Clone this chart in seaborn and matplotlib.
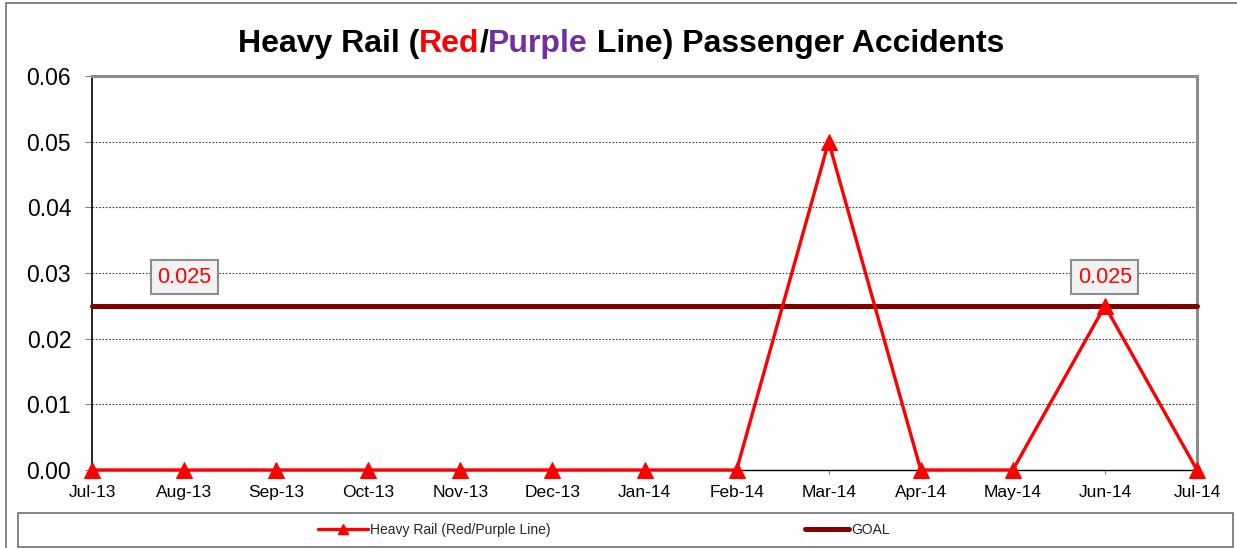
import matplotlib
matplotlib.use("Agg")
import matplotlib.pyplot as plt
from matplotlib.patches import Rectangle
from matplotlib.lines import Line2D
import seaborn as sns
import pandas as pd

# Monthly accident rate and goal
months = ["Jul-13", "Aug-13", "Sep-13", "Oct-13", "Nov-13", "Dec-13", "Jan-14",
          "Feb-14", "Mar-14", "Apr-14", "May-14", "Jun-14", "Jul-14"]
accidents = [0, 0, 0, 0, 0, 0, 0, 0, 0.05, 0, 0, 0.025, 0]
goal = [0.025] * 13
y_ticks = [0.00, 0.01, 0.02, 0.03, 0.04, 0.05, 0.06]
series_name = "Heavy Rail (Red/Purple Line)"
goal_name = "GOAL"
labelled_points = [(1, 0.025), (11, 0.025)]

sns.set_theme(style="white")
plt.rcParams["font.family"] = ["Liberation Sans", "DejaVu Sans"]

W, H = 1237, 548
fig = plt.figure(figsize=(W / 100, H / 100), dpi=100)
ax = fig.add_axes([92 / W, 1 - 470 / H, (1197 - 92) / W, (470 - 76) / H])

df = pd.DataFrame({"idx": range(len(months)), "month": months,
                   "value": accidents, "goal": goal})

RED = "#FF0000"
GOAL_C = "#800000"

sns.lineplot(data=df, x="idx", y="goal", ax=ax, color=GOAL_C, lw=3.6,
             zorder=3, legend=False)
sns.lineplot(data=df, x="idx", y="value", ax=ax, color=RED, lw=2.4,
             marker="^", markersize=11, markeredgecolor=RED, zorder=4,
             legend=False)
for line in ax.lines:
    line.set_clip_on(False)

ax.set_xlim(0, len(months) - 1)
ax.set_ylim(0, 0.06)
ax.set_yticks(y_ticks)
ax.set_yticklabels([f"{v:.2f}" for v in y_ticks], fontsize=16.5)
ax.set_xticks(range(len(months)))
ax.set_xticklabels(months, fontsize=12.5)
ax.set_xlabel("")
ax.set_ylabel("")
ax.tick_params(axis="y", length=5, width=0.8, color="#808080", pad=10,
               left=True, labelcolor="black")
ax.tick_params(axis="x", length=3, width=0.8, color="#808080", pad=8,
               bottom=True, labelcolor="black")

for y in y_ticks[1:-1]:
    ax.axhline(y, color="#404040", lw=0.8, ls=(0, (1.5, 1.5)), zorder=1)

ax.spines["left"].set_color("black")
ax.spines["left"].set_linewidth(1.2)
for s in ["top", "right"]:
    ax.spines[s].set_color("#8c8c8c")
    ax.spines[s].set_linewidth(2.2)
ax.spines["bottom"].set_color("black")
ax.spines["bottom"].set_linewidth(1.0)

for xi, yv in labelled_points:
    ax.annotate(f"{yv:.3f}", (xi, yv), xytext=(0, 20.5), textcoords="offset points",
                ha="center", va="center", fontsize=15.5, color=RED, zorder=5,
                bbox=dict(boxstyle="square,pad=0.3", fc="#F2F2F2",
                          ec="#8c8c8c", lw=1.5))

# Multi-coloured title
pieces = [("Heavy Rail (", "black"), ("Red", RED), ("/", "black"),
          ("Purple", "#7030A0"), (" Line) Passenger Accidents", "black")]
renderer = fig.canvas.get_renderer()
texts = []
widths = []
for s, c in pieces:
    t = fig.text(0, 1 - 44 / H, s, color=c, fontsize=23, fontweight="bold",
                 va="center", ha="left")
    bb = t.get_window_extent(renderer=renderer)
    texts.append(t)
    widths.append(bb.width)
total = sum(widths)
x0 = 621 - total / 2
for t, w in zip(texts, widths):
    t.set_x(x0 / W)
    x0 += w

# Outer chart frame
fig.patches.append(Rectangle((6 / W, -0.05), 1.1, 1 - 3 / H + 0.05,
                             transform=fig.transFigure, fill=False,
                             ec="#707070", lw=1.2, clip_on=False))
# Legend box
fig.patches.append(Rectangle((18 / W, 1 - 547 / H), (1233 - 18) / W, (547 - 513) / H,
                             transform=fig.transFigure, fill=False,
                             ec="#707070", lw=1.2))

h1 = Line2D([], [], color=RED, lw=2.4, marker="^", markersize=7)
h2 = Line2D([], [], color=GOAL_C, lw=3.6)
fig.legend([h1], [series_name], loc="center left", frameon=False,
           bbox_to_anchor=(305 / W, 1 - 530 / H), fontsize=10,
           handlelength=3.6, handletextpad=0.2)
fig.legend([h2], [goal_name], loc="center left", frameon=False,
           bbox_to_anchor=(793 / W, 1 - 530 / H), fontsize=10,
           handlelength=3.1, handletextpad=0.2)

fig.savefig("out.png", dpi=100)
